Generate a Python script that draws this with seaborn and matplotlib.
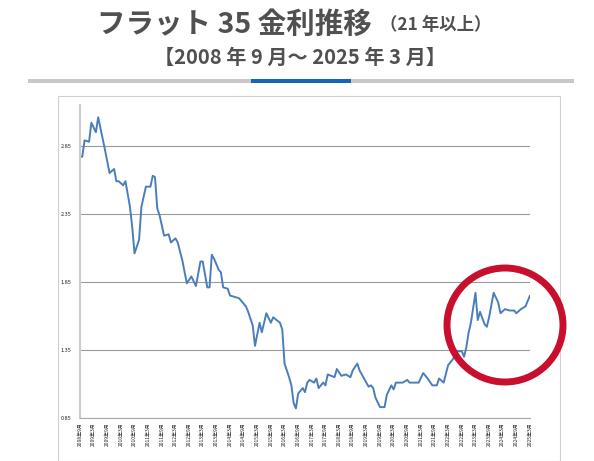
import matplotlib
matplotlib.use("Agg")
import matplotlib.pyplot as plt
from matplotlib.patches import Ellipse, Rectangle
import seaborn as sns
import pandas as pd

month_index = [0,1,2,4,5,7,8,11,13,15,16,17,19,20,22,23,24,26,27,29,31,32,33,34,35,37,39,40,42,43,45,47,49,51,53,54,56,57,58,59,61,62,63,65,66,68,
               70,73,74,76,77,79,80,82,84,85,88,89,90,92,93,94,95,96,98,99,100,101,103,104,105,107,108,109,112,113,115,117,119,120,122,123,125,127,128,129,130,132,
               134,135,137,138,139,141,142,144,145,147,149,151,153,155,157,158,160,162,164,166,168,169,170,171,172,174,175,176,178,179,180,182,184,185,187,189,191,192,194,196,198]
rates = [2.77,2.77,2.89,2.88,3.02,2.95,3.06,2.82,2.65,2.68,2.59,2.59,2.56,2.59,2.40,2.25,2.06,2.16,2.40,2.55,2.55,2.63,2.62,2.39,2.34,2.19,2.20,2.14,2.17,2.14,2.01,1.84,1.89,1.82,2.00,2.00,1.81,1.81,2.05,2.02,1.94,1.92,1.81,1.80,1.75,1.74,
         1.73,1.67,1.63,1.53,1.38,1.55,1.48,1.62,1.55,1.59,1.55,1.50,1.25,1.15,1.09,0.96,0.92,1.03,1.07,1.04,1.11,1.13,1.11,1.14,1.07,1.11,1.09,1.17,1.15,1.21,1.16,1.17,1.15,1.20,1.25,1.20,1.14,1.08,1.09,1.07,1.00,0.93,
         0.93,1.02,1.09,1.06,1.11,1.11,1.11,1.13,1.11,1.11,1.11,1.18,1.14,1.09,1.09,1.14,1.11,1.24,1.28,1.34,1.34,1.30,1.37,1.48,1.55,1.77,1.57,1.63,1.54,1.52,1.59,1.77,1.70,1.62,1.65,1.64,1.64,1.62,1.65,1.67,1.75]

tick_labels = []
y, m = 2008, 9
for i in range(34):
    tick_labels.append(f"{y}年{m}月")
    m += 6
    if m > 12:
        m -= 12
        y += 1
y_ticks = [0.85, 1.35, 1.85, 2.35, 2.85]

sns.set_style("white")
plt.rcParams['font.family'] = ['Noto Sans CJK JP', 'DejaVu Sans']

fig = plt.figure(figsize=(5.94, 4.61), dpi=100)
ax = fig.add_axes([80/594, 43/461, 450/594, 313/461])
df = pd.DataFrame({"m": month_index, "r": rates})
sns.lineplot(data=df, x="m", y="r", ax=ax, color="#4a7ebb", linewidth=1.4)
ax.set_xlim(0, 198)
ax.set_ylim(0.85, 3.15)
ax.set_yticks(y_ticks)
ax.set_yticklabels([f"{v:.2f}" for v in y_ticks], fontsize=4)
ax.set_xticks([i*6 for i in range(34)])
ax.set_xticklabels(tick_labels, rotation=90, fontsize=3.6)
ax.tick_params(axis='x', length=2, color="#aaaaaa", pad=1)
ax.tick_params(axis='y', length=0, pad=6)
ax.yaxis.grid(True, color="#9a9a9a", linewidth=0.8)
ax.set_xlabel(""); ax.set_ylabel("")
for s in ["top", "right"]:
    ax.spines[s].set_visible(False)
ax.spines["left"].set_color("#cccccc"); ax.spines["left"].set_linewidth(1.5)
ax.spines["bottom"].set_color("#aaaaaa"); ax.spines["bottom"].set_linewidth(0.8)

fig.add_artist(Rectangle((58/594, 0), 502/594, 365/461, transform=fig.transFigure,
                         fill=False, edgecolor="#d0d0d0", linewidth=0.8))
fig.add_artist(Ellipse((505/594, 1-325/461), 116/594, 114/461, transform=fig.transFigure,
                       fill=False, edgecolor="#c8102e", linewidth=5))
fig.add_artist(Rectangle((28/594, 1-83/461), 546/594, 4/461, transform=fig.transFigure,
                         color="#c8c8c8", linewidth=0))
fig.add_artist(Rectangle((251/594, 1-83/461), 100/594, 4/461, transform=fig.transFigure,
                         color="#1565b8", linewidth=0))

fig.text(97/594, 1-25/461, "フラット 35 金利推移", fontsize=20.5, fontweight="bold",
         color="#505050", va="center", ha="left")
fig.text(380/594, 1-25/461, "（21 年以上）", fontsize=12.5, fontweight="bold",
         color="#505050", va="center", ha="left")
fig.text(300/594, 1-57/461, "【2008 年 9 月～ 2025 年 3 月】", fontsize=14.5, fontweight="bold",
         color="#505050", va="center", ha="center")

fig.savefig("out.png", dpi=100)
